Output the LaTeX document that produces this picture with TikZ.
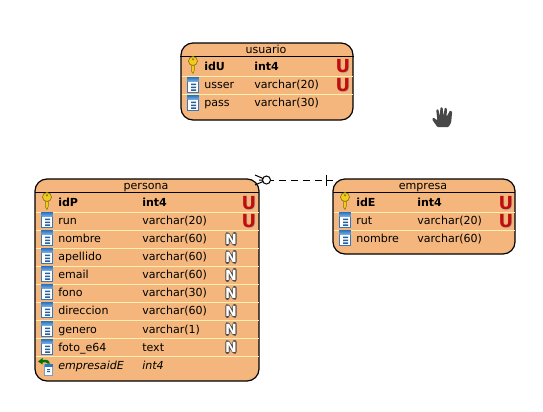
\documentclass[tikz,border=0pt]{standalone}
\usepackage{fontspec}
\setmainfont{DejaVu Sans}
\usetikzlibrary{calc}
\definecolor{tblfill}{HTML}{F4B67C}
\definecolor{rowline}{HTML}{FFF0B0}
\definecolor{kred}{HTML}{C00D0D}
\definecolor{kgold}{HTML}{F2C91E}
\definecolor{kgoldd}{HTML}{8A7410}
\definecolor{iblue}{HTML}{2F78C4}
\definecolor{ihead}{HTML}{7FB4E6}
\tikzset{
  x=0.75pt,y=-0.75pt,
  tbl/.style={draw=black,line width=0.9pt,fill=tblfill,rounded corners=9pt},
  hdr/.style={draw=black,line width=0.75pt},
  sep/.style={draw=rowline,line width=0.75pt},
  txt/.style={inner sep=0pt,anchor=base west,font=\fontsize{8.3}{10}\selectfont,text=black},
  ttl/.style={inner sep=0pt,anchor=base,font=\fontsize{8.3}{10}\selectfont,text=black},
  ub/.style={inner sep=0pt,anchor=center,font=\fontsize{13.5}{14}\selectfont\bfseries},
  nb/.style={inner sep=0pt,anchor=center,font=\fontsize{10.5}{11}\selectfont\bfseries,text=white},
}
% key icon centred on #1,#2
\newcommand{\keyicon}[2]{\begin{scope}[shift={(#1,#2)}]
  \fill[kgold,draw=kgoldd,line width=0.4pt] (-1.4,-2) -- (1.4,-2) -- (1.4,5) -- (0,8.5) -- (-1.4,6.5) -- cycle;
  \fill[kgold,draw=kgoldd,line width=0.5pt] (0,-4) circle[radius=4.5];
  \fill[kgoldd] (0,-5.8) circle[radius=1.1];
\end{scope}}
% column icon
\newcommand{\colicon}[2]{\begin{scope}[shift={(#1,#2)}]
  \fill[white,draw=iblue,line width=0.7pt] (-5.5,-7.5) rectangle (5.5,7.5);
  \shade[top color=iblue,bottom color=ihead] (-5.5,-7.5) rectangle (5.5,-3.2);
  \fill[iblue!80!black] (-2,-1.3) rectangle (3,0.1) (-2,1.6) rectangle (3,3) (-2,4.4) rectangle (3,5.8);
\end{scope}}
% foreign key icon
\newcommand{\fkicon}[2]{\begin{scope}[shift={(#1,#2)}]
  \fill[white,draw=iblue!70,line width=0.5pt] (-2.5,-3) rectangle (5.5,8);
  \fill[iblue] (-2.5,-3) rectangle (5.5,0);
  \fill[iblue!80!black] (0,2) rectangle (3,3) (0,4) rectangle (3,5);
  \fill[green!45!black] (-9,-5.5) -- (-4.5,-9) -- (-4.5,-7.2) .. controls (1,-8) and (3,-5.5) .. (3,-3.5) -- (0.5,-3.5) .. controls (0,-5) and (-2,-4.8) .. (-4.5,-4.6) -- (-4.5,-2.6) -- cycle;
\end{scope}}
\newcommand{\uicon}[3]{\node[ub,text=black!35,opacity=0.6] at (#1+0.8,#2+0.8) {U};\node[ub,text=kred] (#3) at (#1,#2) {U};}
\newcommand{\nicon}[3]{\draw[black!70,line width=3.2pt,line join=round,line cap=round] (#1-3.6,#2+4.8) -- (#1-3.6,#2-4.8) -- (#1+3.6,#2+4.8) -- (#1+3.6,#2-4.8);
  \node[nb] (#3) at (#1,#2) {N};}
\begin{document}
\begin{tikzpicture}
\useasboundingbox (0,0) rectangle (543,411);
\fill[white] (0,0) rectangle (543,411);

% usuario
\node[tbl,inner sep=0pt,minimum width=129pt,minimum height=57.75pt] (usuario) at (267,81.5) {};
\draw[hdr] (usuario.west|-0,56.5) -- (usuario.east|-0,56.5);
\draw[sep] (181.5,76) -- (352.5,76) (181.5,94) -- (352.5,94);
\node[ttl] (usuarioT) at (266,53) {usuario};
\keyicon{193}{65}\colicon{193}{85}\colicon{193}{103}
\node[txt,font=\fontsize{8.3}{10}\selectfont\bfseries] (u1) at (204,70) {idU};
\node[txt,font=\fontsize{8.3}{10}\selectfont\bfseries] (u1t) at (254,70) {int4};
\node[txt] (u2) at (204,88) {usser};
\node[txt] (u2t) at (254,88) {varchar(20)};
\node[txt] (u3) at (204,106) {pass};
\node[txt] (u3t) at (254,106) {varchar(30)};
\uicon{343}{66.5}{uu1}\uicon{343}{85}{uu2}

% persona
\node[tbl,inner sep=0pt,minimum width=168pt,minimum height=151.5pt] (persona) at (147,280) {};
\draw[hdr] (35,192.5) -- (259,192.5);
\foreach \yy in {212,230,248,266,284,302,320,338,356}{\draw[sep] (35.5,\yy) -- (258.5,\yy);}
\node[ttl] (personaT) at (146,189) {persona};
\keyicon{47}{201}
\foreach \yy in {220,238,256,274,292,310,329,347}{\colicon{47}{\yy}}
\fkicon{47}{367}
\node[txt,font=\fontsize{8.3}{10}\selectfont\bfseries] (p1) at (58,206) {idP};
\node[txt,font=\fontsize{8.3}{10}\selectfont\bfseries] (p1t) at (142,206) {int4};
\node[txt] (p2) at (58,224) {run};       \node[txt] (p2t) at (142,224) {varchar(20)};
\node[txt] (p3) at (58,242) {nombre};    \node[txt] (p3t) at (142,242) {varchar(60)};
\node[txt] (p4) at (58,260) {apellido};  \node[txt] (p4t) at (142,260) {varchar(60)};
\node[txt] (p5) at (58,278) {email};     \node[txt] (p5t) at (142,278) {varchar(60)};
\node[txt] (p6) at (58,296) {fono};      \node[txt] (p6t) at (142,296) {varchar(30)};
\node[txt] (p7) at (58,314) {direccion}; \node[txt] (p7t) at (142,314) {varchar(60)};
\node[txt] (p8) at (58,333) {genero};    \node[txt] (p8t) at (142,333) {varchar(1)};
\node[txt] (p9) at (58,351) {foto\_e64}; \node[txt] (p9t) at (142,351) {text};
\node[txt,font=\fontsize{8.3}{10}\selectfont\itshape] (p10) at (58,369) {empresaidE};
\node[txt,font=\fontsize{8.3}{10}\selectfont\itshape] (p10t) at (142,369) {int4};
\uicon{249}{203}{pu1}\uicon{249}{221}{pu2}
\nicon{231}{239}{pn1}\nicon{231}{257}{pn2}\nicon{231}{275}{pn3}\nicon{231}{293}{pn4}
\nicon{231}{311}{pn5}\nicon{231}{329}{pn6}\nicon{231}{347}{pn7}

% empresa
\node[tbl,inner sep=0pt,minimum width=136.5pt,minimum height=56.25pt] (empresa) at (424,216.5) {};
\draw[hdr] (333,192.5) -- (515,192.5);
\draw[sep] (333.5,212) -- (514.5,212) (333.5,230) -- (514.5,230);
\node[ttl] (empresaT) at (423,189) {empresa};
\keyicon{345}{201}\colicon{345}{220}\colicon{345}{238}
\node[txt,font=\fontsize{8.3}{10}\selectfont\bfseries] (e1) at (356,206) {idE};
\node[txt,font=\fontsize{8.3}{10}\selectfont\bfseries] (e1t) at (417,206) {int4};
\node[txt] (e2) at (356,224) {rut};      \node[txt] (e2t) at (417,224) {varchar(20)};
\node[txt] (e3) at (356,242) {nombre};   \node[txt] (e3t) at (417,242) {varchar(60)};
\uicon{506}{203}{eu1}\uicon{506}{221}{eu2}

% connector
\coordinate (pc) at (259,180);
\coordinate (ec) at (333,180);
\coordinate (ring) at (266.5,180);
\draw[dashed,dash pattern=on 5.5pt off 3.5pt,line width=0.75pt] (ring) -- (ec);
\draw[line width=0.75pt] (255,175) -- (ring) (255,185) -- (ring) (pc) -- (ring);
\filldraw[fill=white,draw=black,line width=0.75pt] (ring) circle[radius=4];
\draw[line width=0.75pt] (326,174.5) -- (326,185.5);

% hand cursor
\begin{scope}[shift={(444,117.5)},scale=1.2]
  \draw[white,line width=2.2pt,line join=round,fill=white] (-6,8) -- (-10.5,1) -- (-9,-1) -- (-6,1.5) -- (-6.5,-7) -- (-4,-8) -- (-2.5,-8.5) -- (-1,-9.5) -- (1,-9) -- (3,-8) -- (5,-7) -- (7.5,-5) -- (6.5,4) -- (4,8) -- cycle;
  \fill[black!72,rounded corners=0.7pt] (-5.5,8) -- (-10,1.5) -- (-8.8,0) -- (-5.5,2.5) -- (-6.5,-6.5) -- (-4.8,-7) -- (-3.4,-1) -- (-3,-8.4) -- (-1.2,-8.6) -- (-0.4,-1) -- (0.6,-8.2) -- (2.4,-7.8) -- (2.2,-0.5) -- (5,-6) -- (6.8,-5) -- (6,4) -- (3.8,8) -- cycle;
\end{scope}
\end{tikzpicture}
\end{document}
